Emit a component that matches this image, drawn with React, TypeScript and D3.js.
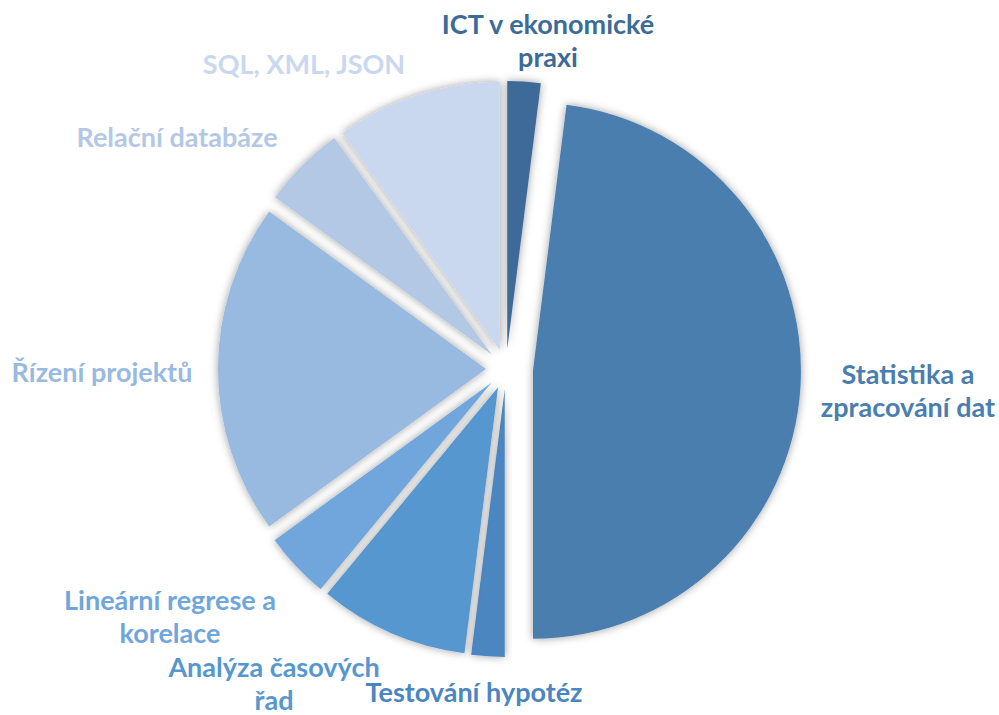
import React from "react";
import * as d3 from "d3";

const categories = [
  "ICT v ekonomické praxi",
  "Statistika a zpracování dat",
  "Testování hypotéz",
  "Analýza časových řad",
  "Lineární regrese a korelace",
  "Řízení projektů",
  "Relační databáze",
  "SQL, XML, JSON",
];
const values = [2, 48, 2, 9, 4, 20, 5, 10];
const labelLines = [
  ["ICT v ekonomické", "praxi"],
  ["Statistika a", "zpracování dat"],
  ["Testování hypotéz"],
  ["Analýza časových", "řad"],
  ["Lineární regrese a", "korelace"],
  ["Řízení projektů"],
  ["Relační databáze"],
  ["SQL, XML, JSON"],
];
const colors = ["#3d6b98", "#4a7eae", "#4b86c1", "#5797cf", "#6fa6db", "#98b9e0", "#b3c8e5", "#c9d8ee"];
// layout only: per-slice explosion and label block centre offset from the pie centre
const explode = [20, 27, 20, 20, 20, 20, 20, 20];
const labelOffsets: [number, number][] = [
  [42, -319],
  [402, 31],
  [-32, 333],
  [-232, 324],
  [-336, 257],
  [-404, 13],
  [-329, -222],
  [-202, -295],
];

const W = 999;
const H = 715;
const cx = 506;
const cy = 369;
const R = 268;
const LINE_H = 33;

export default function App() {
  const pie = d3.pie<number>().sort(null).value((d) => d);
  const arcs = pie(values);
  const arcGen = d3.arc<d3.PieArcDatum<number>>().innerRadius(0).outerRadius(R);

  return (
    <svg
      width={W}
      height={H}
      style={{ position: "fixed", left: 0, top: 0, background: "#fff" }}
    >
      <defs>
        <filter id="sh" x="-20%" y="-20%" width="140%" height="140%">
          <feDropShadow dx="0" dy="0" stdDeviation="4.5" floodColor="#000" floodOpacity="0.38" />
        </filter>
      </defs>
      <g transform={`translate(${cx},${cy})`}>
        {arcs.map((a, i) => {
          const mid = (a.startAngle + a.endAngle) / 2;
          const ox = explode[i] * Math.sin(mid);
          const oy = -explode[i] * Math.cos(mid);
          return (
            <path
              key={categories[i]}
              d={arcGen(a) || ""}
              transform={`translate(${ox},${oy})`}
              fill={colors[i]}
              filter="url(#sh)"
            />
          );
        })}
      </g>
      <g
        fontFamily="Lato, 'Open Sans', sans-serif"
        fontWeight={700}
        fontSize={27}
        textAnchor="middle"
      >
        {labelLines.map((lines, i) => {
          const [dx, dy] = labelOffsets[i];
          const n = lines.length;
          return (
            <text key={i} fill={colors[i]}>
              {lines.map((ln, j) => (
                <tspan key={j} x={cx + dx} y={cy + dy + (j - (n - 1) / 2) * LINE_H}>
                  {ln}
                </tspan>
              ))}
            </text>
          );
        })}
      </g>
    </svg>
  );
}
